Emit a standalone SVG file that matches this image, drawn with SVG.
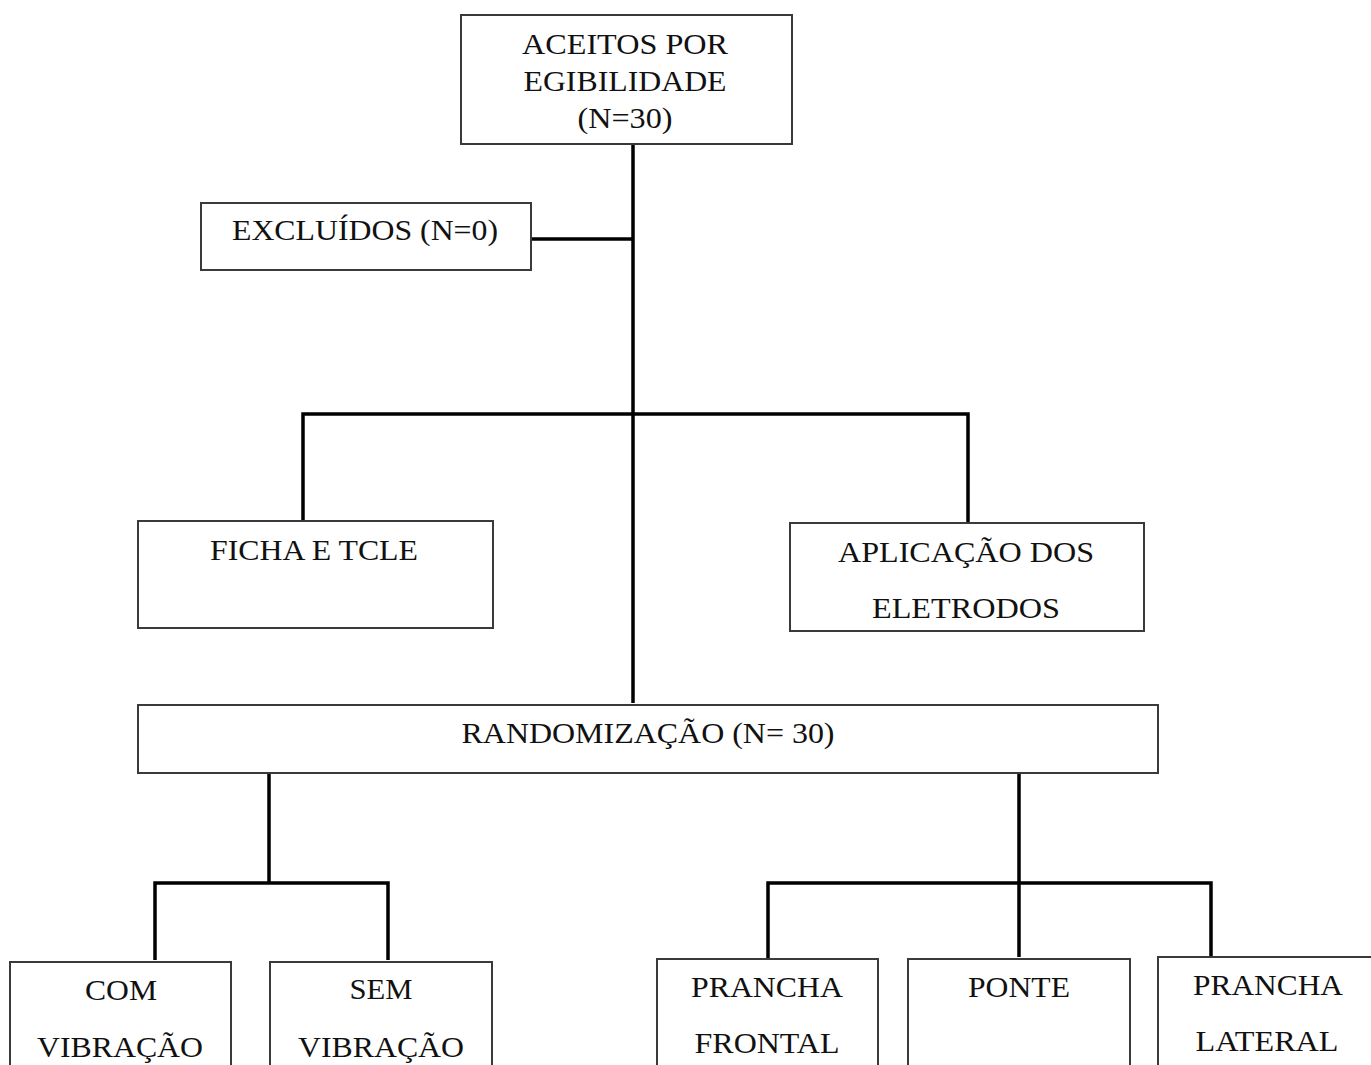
<svg xmlns="http://www.w3.org/2000/svg" width="1371" height="1065" viewBox="0 0 1371 1065">
<style>
.box{fill:#fff;stroke:#3a3a3a;stroke-width:2}
.t{font-family:"Liberation Serif","Times New Roman",serif;font-size:30px;fill:#111;text-anchor:middle}
.c{fill:none;stroke:#000;stroke-width:3.5;stroke-linejoin:miter}
</style>
<rect width="1371" height="1065" fill="#fff"/>
<g id="connectors">
<path class="c" d="M633,144 V703"/>
<path class="c" d="M531,239 H633"/>
<path class="c" d="M303,521 V414 H968 V523"/>
<path class="c" d="M269,773 V883"/>
<path class="c" d="M155,960 V883 H388 V960"/>
<path class="c" d="M1019,773 V957"/>
<path class="c" d="M768,958 V883 H1211 V957"/>
</g>
<g id="n-aceitos">
<rect class="box" x="461" y="15" width="331" height="129"/>
<text class="t" x="625" y="54" textLength="206" lengthAdjust="spacingAndGlyphs">ACEITOS POR</text>
<text class="t" x="625" y="91" textLength="203" lengthAdjust="spacingAndGlyphs">EGIBILIDADE</text>
<text class="t" x="625" y="128" textLength="95" lengthAdjust="spacingAndGlyphs">(N=30)</text>
</g>
<g id="n-excluidos">
<rect class="box" x="201" y="203" width="330" height="67"/>
<text class="t" x="365" y="240" textLength="266" lengthAdjust="spacingAndGlyphs">EXCLUÍDOS (N=0)</text>
</g>
<g id="n-ficha">
<rect class="box" x="138" y="521" width="355" height="107"/>
<text class="t" x="314" y="560" textLength="208" lengthAdjust="spacingAndGlyphs">FICHA E TCLE</text>
</g>
<g id="n-aplicacao">
<rect class="box" x="790" y="523" width="354" height="108"/>
<text class="t" x="966" y="562" textLength="256" lengthAdjust="spacingAndGlyphs">APLICAÇÃO DOS</text>
<text class="t" x="966" y="618" textLength="188" lengthAdjust="spacingAndGlyphs">ELETRODOS</text>
</g>
<g id="n-randomizacao">
<rect class="box" x="138" y="705" width="1020" height="68"/>
<text class="t" x="648" y="743" textLength="373" lengthAdjust="spacingAndGlyphs">RANDOMIZAÇÃO (N= 30)</text>
</g>
<g id="n-com">
<rect class="box" x="10" y="962" width="221" height="120"/>
<text class="t" x="121" y="1000" textLength="72" lengthAdjust="spacingAndGlyphs">COM</text>
<text class="t" x="120" y="1057" textLength="166" lengthAdjust="spacingAndGlyphs">VIBRAÇÃO</text>
</g>
<g id="n-sem">
<rect class="box" x="270" y="962" width="222" height="120"/>
<text class="t" x="381" y="999" textLength="63" lengthAdjust="spacingAndGlyphs">SEM</text>
<text class="t" x="381" y="1057" textLength="166" lengthAdjust="spacingAndGlyphs">VIBRAÇÃO</text>
</g>
<g id="n-frontal">
<rect class="box" x="657" y="959" width="221" height="120"/>
<text class="t" x="767" y="997" textLength="152" lengthAdjust="spacingAndGlyphs">PRANCHA</text>
<text class="t" x="767" y="1053" textLength="145" lengthAdjust="spacingAndGlyphs">FRONTAL</text>
</g>
<g id="n-ponte">
<rect class="box" x="908" y="959" width="222" height="120"/>
<text class="t" x="1019" y="997" textLength="102" lengthAdjust="spacingAndGlyphs">PONTE</text>
</g>
<g id="n-lateral">
<rect class="box" x="1158" y="957" width="220" height="120"/>
<text class="t" x="1268" y="995" textLength="150" lengthAdjust="spacingAndGlyphs">PRANCHA</text>
<text class="t" x="1267" y="1051" textLength="143" lengthAdjust="spacingAndGlyphs">LATERAL</text>
</g>
</svg>
